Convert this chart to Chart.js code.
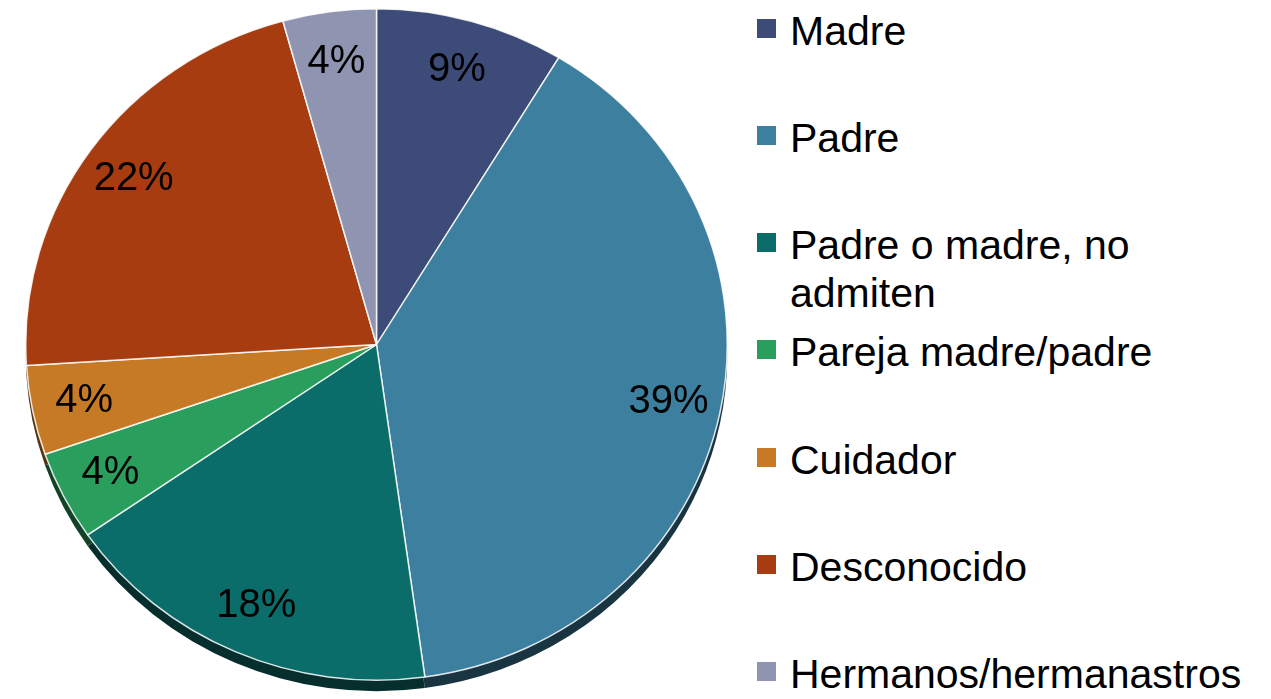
<!DOCTYPE html>
<html>
<head>
<meta charset="utf-8">
<script src="https://cdn.jsdelivr.net/npm/chart.js@4.4.1/dist/chart.umd.min.js"></script>
<style>
  body {
    margin: 0;
    width: 1271px;
    height: 699px;
    overflow: hidden;
    background: #fff;
    position: relative;
    font-family: "Liberation Sans", Arial, sans-serif;
  }
  #myChart {
    position: absolute;
    left: 25px;
    top: -7px;
  }
  #legend {
    position: absolute;
    left: 757px;
    top: 0;
    width: 510px;
    height: 699px;
  }
  .item {
    position: absolute;
    left: 0;
    font-size: 41px;
    line-height: 48px;
    color: #000;
  }
  .box {
    position: absolute;
    left: 0;
    top: 12px;
    width: 19px;
    height: 19px;
  }
  .txt {
    margin-left: 33px;
    width: 465px;
  }
</style>
</head>
<body>
<canvas id="myChart" width="703" height="703"></canvas>
<div id="legend"></div>
<script>
// who the parents/relatives are (share of cases, %)
var categories = [
  "Madre",
  "Padre",
  "Padre o madre, no admiten",
  "Pareja madre/padre",
  "Cuidador",
  "Desconocido",
  "Hermanos/hermanastros"
];
var shares = [8.7, 39.1, 17.6, 4.3, 4.3, 21.7, 4.3];
var colors = ["#3C4B77", "#3C7F9E", "#0B6D6A", "#2A9F5D", "#C77A25", "#A63C10", "#8F95B1"];

var squash = 0.957;     // pie is a bit wider than tall
var shadowDrop = 11;    // dark rim under the pie
var labelPos = 0.85;

function darken(hex, f) {
  var n = parseInt(hex.slice(1), 16);
  var r = Math.round(((n >> 16) & 255) * f);
  var g = Math.round(((n >> 8) & 255) * f);
  var b = Math.round((n & 255) * f);
  return "rgb(" + r + "," + g + "," + b + ")";
}

var pieLook = {
  id: "pieLook",
  beforeDatasetsDraw: function (chart) {
    var ctx = chart.ctx;
    var arcs = chart.getDatasetMeta(0).data;
    var cx = arcs[0].x, cy = arcs[0].y;
    ctx.save();
    ctx.translate(cx, cy);
    ctx.scale(1, squash);
    ctx.translate(-cx, -cy);
    arcs.forEach(function (a, i) {
      var dy = shadowDrop / squash;
      ctx.beginPath();
      ctx.moveTo(a.x, a.y + dy);
      ctx.arc(a.x, a.y + dy, a.outerRadius, a.startAngle, a.endAngle);
      ctx.closePath();
      ctx.fillStyle = darken(colors[i], 0.42);
      ctx.fill();
    });
  },
  afterDatasetsDraw: function (chart) {
    var ctx = chart.ctx;
    ctx.restore();
    var arcs = chart.getDatasetMeta(0).data;
    ctx.save();
    ctx.font = '40px "Liberation Sans", Arial, sans-serif';
    ctx.fillStyle = "#000";
    ctx.textAlign = "center";
    ctx.textBaseline = "middle";
    arcs.forEach(function (a, i) {
      var mid = (a.startAngle + a.endAngle) / 2;
      var r = a.outerRadius * labelPos;
      var x = a.x + Math.cos(mid) * r;
      var y = a.y + Math.sin(mid) * r * squash;
      ctx.fillText(Math.round(shares[i]) + "%", x, y);
    });
    ctx.restore();
  }
};

var ctx = document.getElementById("myChart").getContext("2d");
var chart = new Chart(ctx, {
  type: "pie",
  data: {
    labels: categories,
    datasets: [
      {
        data: shares,
        backgroundColor: colors,
        borderColor: "rgba(255, 255, 255, 0.85)",
        borderWidth: 1.5,
        clip: false
      }
    ]
  },
  options: {
    responsive: false,
    animation: false,
    layout: { padding: 0 },
    plugins: {
      legend: { display: false },
      tooltip: { enabled: false }
    }
  },
  plugins: [pieLook]
});

// legend on the right, one entry every ~107px
var legend = document.getElementById("legend");
categories.forEach(function (name, i) {
  var item = document.createElement("div");
  item.className = "item";
  item.style.top = (6.8 + i * 107.2) + "px";
  var box = document.createElement("div");
  box.className = "box";
  box.style.background = colors[i];
  var txt = document.createElement("div");
  txt.className = "txt";
  txt.textContent = name;
  item.appendChild(box);
  item.appendChild(txt);
  legend.appendChild(item);
});
</script>
</body>
</html>
